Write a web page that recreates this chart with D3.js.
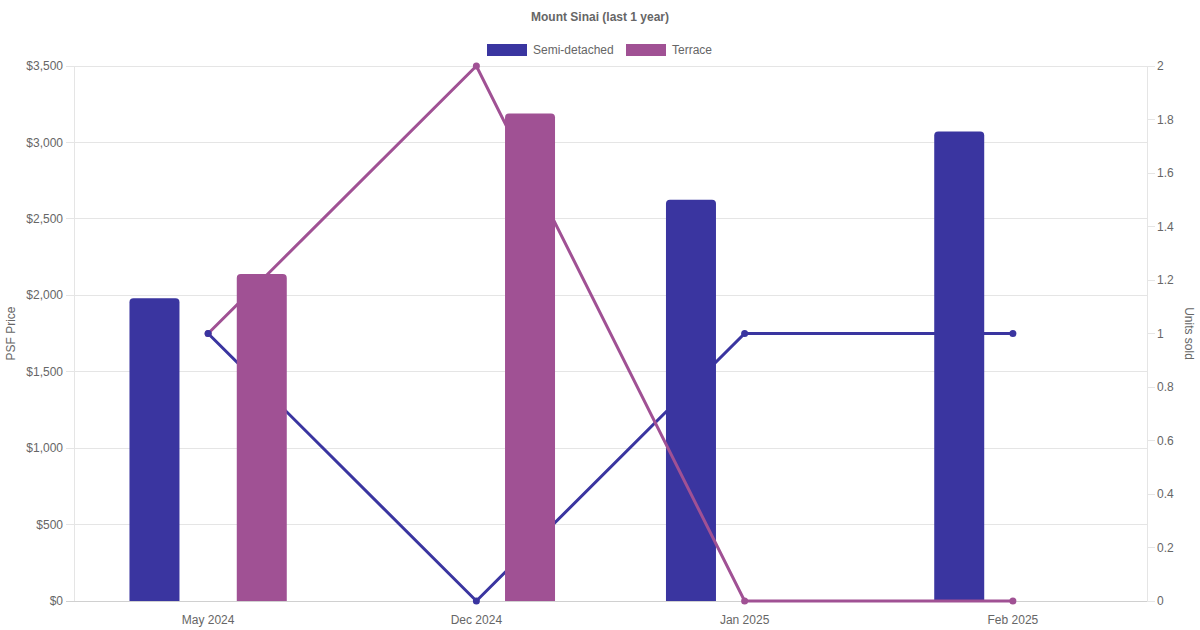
<!DOCTYPE html>
<html><head><meta charset="utf-8">
<script src="https://cdn.jsdelivr.net/npm/d3@7"></script>
<style>body{margin:0;background:#fff}svg{display:block;font-family:"Liberation Sans",Arial,sans-serif}</style>
</head><body><svg id="c" width="1200" height="630"></svg>
<script>
const categories = ["May 2024","Dec 2024","Jan 2025","Feb 2025"];
const seriesNames = ["Semi-detached","Terrace"];
const psfSemi = [1980, null, 2625, 3072];
const psfTerrace = [2140, 3190, null, null];
const unitsSemi = [1, 0, 1, 1];
const unitsTerrace = [1, 2, 0, 0];
const leftTicks = [0,500,1000,1500,2000,2500,3000,3500];
const rightTicks = [0,0.2,0.4,0.6,0.8,1,1.2,1.4,1.6,1.8,2];
const colors = ["#3a35a0","#a05194"];

const svg = d3.select("#c");
const L=74, R=1147, T=66, B=601;
const x = d3.scaleBand().domain(categories).range([L,R]).paddingInner(0).paddingOuter(0);
const yL = d3.scaleLinear().domain([0,3500]).range([B,T]);
const yR = d3.scaleLinear().domain([0,2]).range([B,T]);
const grey="#666", gridC="#e5e5e5";

// grid
svg.append("g").selectAll("line").data(leftTicks).join("line")
  .attr("x1",L-8).attr("x2",R).attr("y1",d=>yL(d)).attr("y2",d=>yL(d))
  .attr("stroke",d=>d===0?"#d0d0d0":gridC).attr("stroke-width",1).attr("shape-rendering","crispEdges");
svg.append("line").attr("x1",L).attr("x2",L).attr("y1",T).attr("y2",B).attr("stroke",gridC).attr("shape-rendering","crispEdges");
svg.append("line").attr("x1",R).attr("x2",R).attr("y1",T).attr("y2",B).attr("stroke",gridC).attr("shape-rendering","crispEdges");
svg.append("g").selectAll("line").data(rightTicks).join("line")
  .attr("x1",R).attr("x2",R+8).attr("y1",d=>yR(d)).attr("y2",d=>yR(d))
  .attr("stroke",gridC).attr("shape-rendering","crispEdges");

// tick labels
const fmt = d=>"$"+d3.format(",")(d);
svg.append("g").selectAll("text").data(leftTicks).join("text")
  .attr("x",L-11).attr("y",d=>yL(d)).attr("dy","0.35em").attr("text-anchor","end")
  .attr("font-size",12).attr("fill",grey).text(fmt);
svg.append("g").selectAll("text").data(rightTicks).join("text")
  .attr("x",R+10).attr("y",d=>yR(d)).attr("dy","0.35em").attr("text-anchor","start")
  .attr("font-size",12).attr("fill",grey).text(d=>d3.format("~g")(d));
svg.append("g").selectAll("text").data(categories).join("text")
  .attr("x",d=>x(d)+x.bandwidth()/2).attr("y",B+23).attr("text-anchor","middle")
  .attr("font-size",12).attr("fill",grey).text(d=>d);

// axis titles
svg.append("text").attr("transform",`translate(15,${(T+B)/2}) rotate(-90)`).attr("text-anchor","middle")
  .attr("font-size",12).attr("fill",grey).text("PSF Price");
svg.append("text").attr("transform",`translate(1185,${(T+B)/2}) rotate(90)`).attr("text-anchor","middle")
  .attr("font-size",12).attr("fill",grey).text("Units sold");

// title
svg.append("text").attr("x",600).attr("y",21).attr("text-anchor","middle").attr("font-size",12)
  .attr("font-weight","bold").attr("fill",grey).text("Mount Sinai (last 1 year)");

// legend
const leg = [{n:seriesNames[0],c:colors[0],x:487},{n:seriesNames[1],c:colors[1],x:626}];
leg.forEach(l=>{
  svg.append("rect").attr("x",l.x).attr("y",44).attr("width",40).attr("height",12).attr("fill",l.c);
  svg.append("text").attr("x",l.x+46).attr("y",50).attr("dy","0.35em").attr("font-size",12).attr("fill",grey).text(l.n);
});

const cx = d=>x(d)+x.bandwidth()/2;
function drawLine(vals,c){
  const data = categories.map((k,i)=>({k,v:vals[i]}));
  svg.append("path").datum(data).attr("fill","none").attr("stroke",c).attr("stroke-width",3)
    .attr("d",d3.line().x(d=>cx(d.k)).y(d=>yR(d.v)));
}
function drawPoints(vals,c){
  const data = categories.map((k,i)=>({k,v:vals[i]}));
  svg.append("g").selectAll("circle").data(data).join("circle")
    .attr("cx",d=>cx(d.k)).attr("cy",d=>yR(d.v)).attr("r",3.5).attr("fill",c);
}
const sub = d3.scaleBand().domain([0,1]).range([0,x.bandwidth()*0.8]);
const bw = Math.min(50, sub.bandwidth()*0.9);
function barPath(x0,y0,w,h,r){
  r=Math.min(r,h,w/2);
  return `M${x0},${y0+h}V${y0+r}Q${x0},${y0} ${x0+r},${y0}H${x0+w-r}Q${x0+w},${y0} ${x0+w},${y0+r}V${y0+h}Z`;
}
function drawBars(vals,c,si){
  const data = categories.map((k,i)=>({k,v:vals[i]})).filter(d=>d.v!=null);
  svg.append("g").selectAll("path").data(data).join("path").attr("fill",c)
    .attr("d",d=>{
      const center = x(d.k)+x.bandwidth()*0.1+sub(si)+sub.bandwidth()/2;
      return barPath(center-bw/2, yL(d.v), bw, B-yL(d.v), 4);
    });
}
drawLine(unitsSemi,colors[0]);
drawBars(psfSemi,colors[0],0);
drawLine(unitsTerrace,colors[1]);
drawPoints(unitsTerrace,colors[1]);
drawBars(psfTerrace,colors[1],1);
drawPoints(unitsSemi,colors[0]);
</script></body></html>
